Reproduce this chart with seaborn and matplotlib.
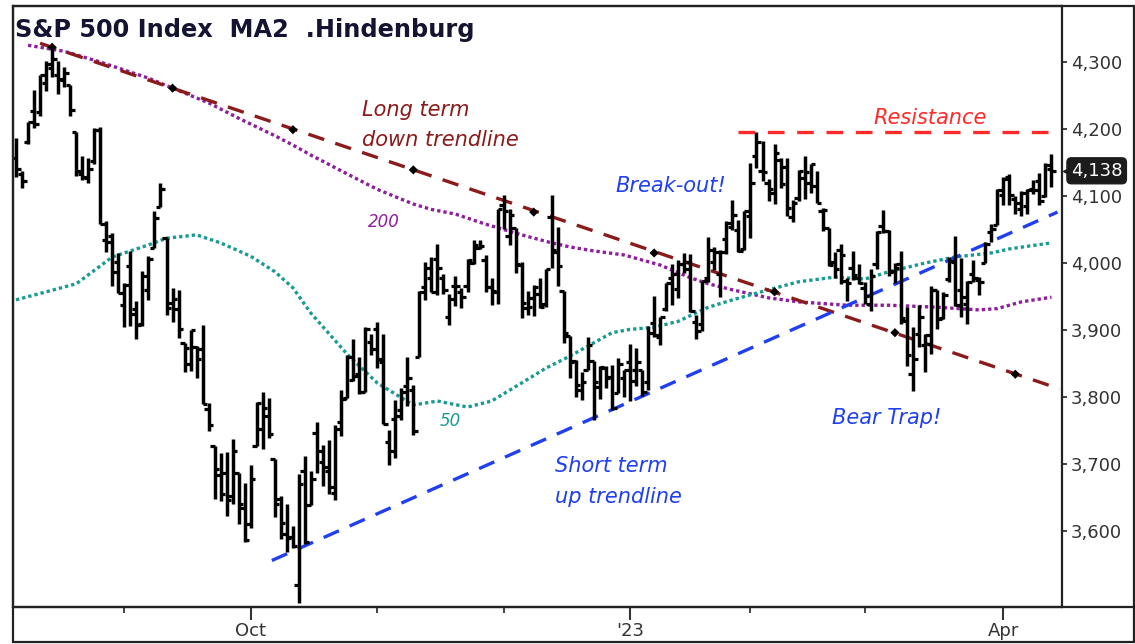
import numpy as np
import matplotlib
matplotlib.use("Agg")
import matplotlib.pyplot as plt
from matplotlib.lines import Line2D
from matplotlib.patches import Rectangle
from matplotlib.transforms import blended_transform_factory
import seaborn as sns

# S&P 500 daily bars, 8 Aug 2022 .. 14 Apr 2023 (one entry per trading day)
opens = [
    # Aug
    4156, 4133, 4181, 4227, 4225, 4269, 4291, 4280, 4273, 4266, 4195, 4133, 4127, 4153, 4199, 4035, 4041, 4001,
    # Sep
    3937, 3995, 3931, 3909, 3960, 4023, 4084, 4037, 3941, 3932, 3881, 3850, 3875, 3871, 3782, 3727, 3683, 3686, 3652, 3687, 3634,
    # Oct
    3610, 3727, 3753, 3772, 3707, 3648, 3596, 3591, 3520, 3690, 3639, 3746, 3703, 3689, 3657, 3762, 3799, 3826, 3835, 3808, 3882,
    # Nov
    3902, 3853, 3733, 3767, 3781, 3817, 3811, 3860, 3964, 3978, 4006, 3977, 3919, 3966, 3956, 3966, 4000, 4023, 4005, 3964, 3957,
    # Dec
    4087, 4040, 4052, 3997, 3933, 3948, 3954, 3939, 4069, 4016, 3958, 3891, 3854, 3811, 3840, 3854, 3815, 3843, 3830, 3806, 3829,
    # Jan
    3853, 3840, 3840, 3823, 3911, 3889, 3932, 3978, 3961, 3999, 4002, 3912, 3909, 3978, 4002, 3983, 4036, 4054, 4049, 4021,
    # Feb
    4070, 4159, 4137, 4120, 4105, 4154, 4144, 4069, 4097, 4127, 4120, 4115, 4077, 4052, 4002, 4019, 3973, 3992, 3977,
    # Mar
    3963, 3939, 3998, 4055, 4048, 3988, 3999, 3913, 3835, 3894, 3877, 3879, 3959, 3918, 3976, 4002, 3959, 3939, 3983, 3974, 4000, 4047, 4056,
    # Apr
    4102, 4128, 4095, 4081, 4085, 4110, 4122, 4100, 4140,
]
highs = [
    4187, 4137, 4211, 4258, 4281, 4302, 4325, 4302, 4293, 4266, 4195, 4160, 4157, 4201, 4203, 4063, 4045, 4015,
    3970, 4018, 3943, 3988, 4011, 4077, 4119, 4037, 3962, 3959, 3881, 3900, 3876, 3907, 3791, 3727, 3716, 3718, 3737, 3687, 3671,
    3698, 3792, 3807, 3798, 3707, 3652, 3641, 3608, 3685, 3712, 3690, 3763, 3729, 3736, 3758, 3811, 3863, 3886, 3860, 3905, 3894,
    3912, 3894, 3751, 3796, 3814, 3859, 3818, 3958, 4002, 4009, 4029, 3983, 3954, 3980, 3962, 4006, 4034, 4034, 4012, 3977, 4080,
    4101, 4081, 4053, 4002, 3958, 3967, 3977, 3991, 4101, 4054, 3958, 3891, 3855, 3838, 3889, 3854, 3846, 3847, 3848, 3858, 3840,
    3879, 3873, 3840, 3906, 3951, 3920, 3970, 3998, 4004, 4015, 4014, 3923, 3973, 4039, 4024, 4020, 4062, 4094, 4064, 4077,
    4149, 4195, 4182, 4125, 4177, 4157, 4156, 4094, 4139, 4160, 4148, 4137, 4082, 4052, 4017, 4028, 3978, 4018, 3998,
    3972, 3991, 4048, 4079, 4050, 4000, 4018, 3934, 3905, 3937, 3894, 3965, 3959, 3957, 4009, 4040, 4008, 3973, 4004, 3979, 4031, 4058, 4111,
    4128, 4133, 4100, 4107, 4110, 4124, 4134, 4150, 4163,
]
lows = [
    4129, 4112, 4177, 4201, 4220, 4257, 4278, 4253, 4262, 4219, 4130, 4124, 4120, 4148, 4058, 4017, 3965, 3955,
    3904, 3906, 3887, 3906, 3945, 4023, 4084, 3922, 3912, 3888, 3837, 3839, 3828, 3790, 3750, 3648, 3645, 3623, 3641, 3610, 3584,
    3605, 3727, 3723, 3739, 3621, 3588, 3569, 3574, 3492, 3580, 3639, 3687, 3667, 3656, 3647, 3742, 3799, 3824, 3804, 3808, 3863,
    3844, 3759, 3698, 3709, 3765, 3786, 3744, 3860, 3945, 3956, 3953, 3954, 3907, 3936, 3933, 3957, 3999, 4021, 3956, 3938, 3939,
    4051, 4027, 3985, 3918, 3923, 3921, 3933, 3935, 3993, 3966, 3880, 3828, 3800, 3796, 3840, 3765, 3797, 3813, 3781, 3806, 3800,
    3794, 3816, 3802, 3810, 3890, 3877, 3929, 3938, 3948, 3985, 3927, 3886, 3898, 3972, 3990, 3949, 4013, 4049, 4016, 4020,
    4037, 4142, 4123, 4093, 4088, 4112, 4070, 4061, 4093, 4095, 4104, 4090, 4048, 3995, 3977, 3969, 3943, 3974, 3969,
    3939, 3928, 3991, 4045, 3980, 3970, 3909, 3846, 3809, 3874, 3838, 3864, 3901, 3917, 3971, 3936, 3919, 3909, 3971, 3952, 4000, 4032, 4056,
    4087, 4087, 4073, 4070, 4073, 4103, 4087, 4099, 4113,
]
closes = [
    4140, 4122, 4210, 4207, 4280, 4297, 4305, 4274, 4284, 4228, 4138, 4129, 4141, 4199, 4058, 4031, 3986, 3955,
    3967, 3924, 3908, 3980, 4006, 4067, 4110, 3933, 3946, 3901, 3873, 3900, 3856, 3790, 3758, 3693, 3655, 3647, 3719, 3640, 3586,
    3678, 3791, 3783, 3745, 3640, 3612, 3589, 3577, 3670, 3583, 3678, 3720, 3695, 3666, 3753, 3797, 3859, 3831, 3807, 3901, 3872,
    3856, 3760, 3720, 3771, 3807, 3828, 3749, 3956, 3993, 3957, 3992, 3959, 3947, 3965, 3950, 4004, 4027, 4026, 3964, 3958, 4080,
    4077, 4072, 3999, 3941, 3934, 3964, 3934, 3991, 4020, 3995, 3896, 3852, 3818, 3822, 3878, 3822, 3845, 3829, 3783, 3849, 3840,
    3824, 3853, 3808, 3895, 3892, 3919, 3970, 3983, 3999, 3991, 3929, 3899, 3973, 4020, 4017, 4016, 4060, 4071, 4018, 4077,
    4119, 4180, 4136, 4111, 4164, 4118, 4082, 4090, 4137, 4136, 4148, 4090, 4079, 3997, 3991, 4012, 3970, 3982, 3970,
    3951, 3981, 4046, 4048, 3986, 3992, 3918, 3862, 3856, 3919, 3892, 3960, 3917, 3952, 4003, 3937, 3949, 3971, 3978, 3971, 4028, 4051, 4109,
    4125, 4101, 4090, 4105, 4109, 4109, 4092, 4146, 4138,
]

# moving averages (trading-day index, value)
ma50_day = [0, 10, 16, 22, 25, 30, 34, 39, 43, 46, 49, 55, 60, 66, 70, 75, 79, 84, 88,
            92, 95, 99, 102, 106, 110, 115, 119, 125, 130, 136, 141, 145, 151, 156, 162, 165, 168, 172]
ma50 = [3945, 3969, 4009, 4027, 4037, 4042, 4030, 4010, 3987, 3963, 3925, 3864, 3821, 3788, 3794, 3785, 3794, 3821, 3843,
        3861, 3876, 3896, 3901, 3904, 3913, 3934, 3945, 3960, 3972, 3979, 3976, 3987, 4000, 4009, 4015, 4021, 4025, 4030]
ma200_day = [2, 8, 14, 22, 26, 32, 37, 43, 46, 49, 55, 60, 66, 69, 73, 78, 84, 89, 92,
             96, 101, 107, 112, 115, 119, 125, 130, 138, 145, 153, 160, 163, 167, 172]
ma200 = [4325, 4316, 4300, 4276, 4261, 4239, 4216, 4190, 4176, 4161, 4133, 4110, 4088, 4080, 4073, 4058, 4042, 4030, 4024,
         4018, 4012, 3997, 3978, 3969, 3960, 3948, 3942, 3937, 3937, 3934, 3930, 3932, 3942, 3949]

# trend lines
down_day = [4, 173.4]
down_val = [4328, 3812]
pivot_day = [6, 26, 46, 66, 86, 106, 126, 146, 166]
pivot_val = [4322, 4261, 4199, 4139, 4076, 4015, 3957, 3896, 3834]
up_day = [42.5, 173]
up_val = [3556, 4076]
res_day = [120, 173.75]
res_val = [4195, 4195]

month_ticks = [39, 102, 164]
month_labels = ["Oct", "'23", "Apr"]
minor_ticks = [18, 60, 81, 122, 141]
price_ticks = [3600, 3700, 3800, 3900, 4000, 4100, 4200, 4300]
last_price = "4,138"

sns.set_style("white")
plt.rcParams["font.family"] = ["DejaVu Sans"]

W, H = 1135, 644
fig = plt.figure(figsize=(W / 100, H / 100), dpi=100)
ax = fig.add_axes([13 / W, 37 / H, 1049 / W, 601 / H])

day = np.arange(len(closes))
o, h, l, c = map(np.array, (opens, highs, lows, closes))

# moving averages
dots = (0, (1, 0.9))
sns.lineplot(x=ma200_day, y=ma200, ax=ax, color="#8e1f9c", lw=2.4, linestyle=dots, zorder=2)
sns.lineplot(x=ma50_day, y=ma50, ax=ax, color="#1a9a94", lw=2.4, linestyle=dots, zorder=2)

# trend lines
sns.lineplot(x=down_day, y=down_val, ax=ax, color="#8b1a1a", lw=2.4, linestyle=(0, (5, 3.5)), zorder=2)
sns.lineplot(x=up_day, y=up_val, ax=ax, color="#1f3ff0", lw=2.4, linestyle=(0, (5, 3.5)), zorder=2)
sns.lineplot(x=res_day, y=res_val, ax=ax, color="#ff2a2a", lw=2.4, linestyle=(0, (5, 3.8)), zorder=2)

# OHLC bars
ax.vlines(day, l, h, color="black", lw=2.5, zorder=3)
ax.hlines(o, day - 0.75, day, color="black", lw=2.3, zorder=3)
ax.hlines(c, day, day + 0.75, color="black", lw=2.3, zorder=3)

sns.scatterplot(x=pivot_day, y=pivot_val, ax=ax, marker="D", s=22, color="black", zorder=4, edgecolor="none")

# notes
note = dict(style="italic", fontsize=15, va="center")
ax.text(57.5, 4228, "Long term", color="#8b1a1a", **note)
ax.text(57.5, 4183, "down trendline", color="#8b1a1a", **note)
ax.text(142.4, 4216, "Resistance", color="#ff2a2a", **note)
ax.text(99.5, 4115, "Break-out!", color="#1f3ff0", **note)
ax.text(89.5, 3697, "Short term", color="#1f3ff0", **note)
ax.text(89.5, 3651, "up trendline", color="#1f3ff0", **note)
ax.text(135.5, 3769, "Bear Trap!", color="#1f3ff0", **note)
ax.text(58.5, 4061, "200", color="#8e1f9c", style="italic", fontsize=12, va="center")
ax.text(70.4, 3764, "50", color="#1a9a94", style="italic", fontsize=12, va="center")

ax.text(0.002, 0.96, "S&P 500 Index  MA2  .Hindenburg", transform=ax.transAxes,
        fontsize=17.3, fontweight="bold", color="#141432", va="center", ha="left")

# axes
ax.set_xlim(-0.5, 173.75)
ax.set_ylim(3486.6, 4383.6)
ax.yaxis.tick_right()
ax.set_yticks(price_ticks)
ax.set_yticklabels([f"{v:,}" for v in price_ticks])
ax.set_xticks(month_ticks)
ax.set_xticklabels(month_labels)
ax.set_xticks(minor_ticks, minor=True)
ax.tick_params(axis="y", which="both", right=True, left=False, labelright=True, labelleft=False,
               direction="out", length=3.6, width=1.3, pad=3, labelsize=13, colors="#333333")
ax.tick_params(axis="x", which="major", bottom=True, direction="out", length=9, width=1.5, pad=2,
               labelsize=13, colors="#333333")
ax.tick_params(axis="x", which="minor", bottom=True, direction="out", length=4, width=1.3, colors="#333333")
for s in ax.spines.values():
    s.set_visible(True)
    s.set_color("#222222")
    s.set_linewidth(1.6)
ax.set_xlabel("")
ax.set_ylabel("")
ax.grid(False)

# last price tag: pointer + rounded box
tr = blended_transform_factory(ax.transAxes, ax.transData)
ax.plot([1.0086], [4137.64], marker="<", ms=12, color="#1c1c1c", transform=tr, clip_on=False, zorder=6)
ax.text(1.0085, 4137.64, last_price, transform=tr, color="white", fontsize=13, va="center", ha="left",
        bbox=dict(boxstyle="round,pad=0.22,rounding_size=0.25", fc="#1c1c1c", ec="#1c1c1c"),
        clip_on=False, zorder=6)

# outer frame
fig.add_artist(Rectangle((13 / W, 2 / H), 1121 / W, 636 / H, transform=fig.transFigure,
                         fill=False, ec="#222222", lw=1.6))
fig.add_artist(Line2D([13 / W, 1134 / W], [37 / H, 37 / H], color="#222222", lw=1.6))

fig.savefig("out.png", dpi=100)
